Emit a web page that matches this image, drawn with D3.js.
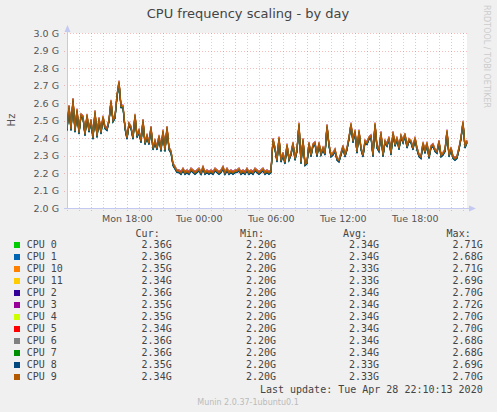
<!DOCTYPE html>
<meta charset="utf-8">
<style>
body { margin: 0; background: #f0f0f0; }
svg { display: block; font-family: "DejaVu Sans", sans-serif; }
.axis-label { font-size: 9.5px; fill: #555; }
.legend { font-family: "DejaVu Sans Mono", monospace; font-size: 10px; fill: #444; white-space: pre; }
</style>
<svg width="497" height="412"></svg>
<script src="https://cdn.jsdelivr.net/npm/d3@7"></script>
<script>

// legend rows, in munin's order (cpu9 is drawn last, on top)
var cpuNames = ["CPU 0", "CPU 1", "CPU 10", "CPU 11", "CPU 2", "CPU 3", "CPU 4", "CPU 5", "CPU 6", "CPU 7", "CPU 8", "CPU 9"];
var cpuColors = ["#00cc00", "#0066b3", "#ff8000", "#ffcc00", "#330099", "#990099", "#ccff00", "#ff0000", "#808080", "#008f00", "#00487d", "#b35a00"];
var curVals = ["2.36G", "2.36G", "2.35G", "2.34G", "2.36G", "2.35G", "2.35G", "2.34G", "2.36G", "2.36G", "2.35G", "2.34G"];
var minVals = ["2.20G", "2.20G", "2.20G", "2.20G", "2.20G", "2.20G", "2.20G", "2.20G", "2.20G", "2.20G", "2.20G", "2.20G"];
var avgVals = ["2.34G", "2.34G", "2.33G", "2.33G", "2.34G", "2.34G", "2.34G", "2.34G", "2.34G", "2.34G", "2.33G", "2.33G"];
var maxVals = ["2.71G", "2.68G", "2.71G", "2.69G", "2.70G", "2.72G", "2.70G", "2.70G", "2.68G", "2.68G", "2.69G", "2.70G"];

// sampled every 10 minutes from Mon 27 Apr 12:58:30 (GHz), all cores run nearly the same
var startTime = new Date(Date.UTC(2020, 3, 27, 12, 58, 30));
var stepMinutes = 10;
var cpuFreq = [
  2.45, 2.58, 2.45, 2.62, 2.44, 2.56, 2.43, 2.53, 2.52, 2.42,
  2.53, 2.44, 2.50, 2.40, 2.55, 2.41, 2.51, 2.43, 2.52, 2.46,
  2.45, 2.50, 2.61, 2.50, 2.52, 2.64, 2.72, 2.58, 2.58, 2.46,
  2.40, 2.48, 2.46, 2.40, 2.53, 2.41, 2.44, 2.38, 2.50, 2.37,
  2.41, 2.37, 2.46, 2.34, 2.38, 2.34, 2.41, 2.33, 2.44, 2.33,
  2.46, 2.34, 2.32, 2.25, 2.23, 2.21,
  2.21, 2.20, 2.22, 2.20, 2.21, 2.20, 2.22, 2.21, 2.20, 2.21,
  2.22, 2.20, 2.23, 2.20, 2.21, 2.20, 2.21, 2.20, 2.22, 2.21,
  2.20, 2.21, 2.23, 2.20, 2.22, 2.20, 2.21, 2.20, 2.21, 2.21,
  2.22, 2.20, 2.21, 2.20, 2.22, 2.20, 2.21, 2.20, 2.22, 2.21,
  2.20, 2.21, 2.22, 2.20, 2.21, 2.20,
  2.21, 2.39, 2.34, 2.27, 2.40, 2.27, 2.31, 2.26, 2.36, 2.28,
  2.31, 2.37, 2.28, 2.33, 2.48, 2.26, 2.39, 2.25, 2.26, 2.37,
  2.30, 2.36, 2.37, 2.30, 2.37, 2.31, 2.34, 2.31, 2.47, 2.36,
  2.30, 2.31, 2.33, 2.28, 2.27, 2.31, 2.35, 2.30, 2.34, 2.40,
  2.48, 2.38, 2.44, 2.32, 2.44, 2.34, 2.30, 2.38, 2.37, 2.40,
  2.41, 2.30, 2.48, 2.35, 2.33, 2.43, 2.30, 2.38, 2.36, 2.40,
  2.31, 2.43, 2.36, 2.40, 2.34, 2.41, 2.38, 2.42, 2.35, 2.39,
  2.38, 2.34, 2.40, 2.34, 2.30, 2.29, 2.37, 2.32, 2.37, 2.29,
  2.35, 2.36, 2.33, 2.32, 2.38, 2.30, 2.31, 2.33, 2.44, 2.30,
  2.34, 2.29, 2.28, 2.29, 2.34, 2.40, 2.49, 2.35, 2.38
];

// small per-core vertical nudge so the overlapping cores peek out like in munin
var lineShift = [0.5, 1, 0, -1, 0, -1.5, -1, -0.5, 0, 1, 1.5, 0];

var svg = d3.select("svg"),
    width = +svg.attr("width"),
    height = +svg.attr("height");

var plotLeft = 67, plotRight = 467, plotTop = 33, plotBottom = 208;
var gridColor = "rgba(150,150,150,0.4)",
    majorColor = "rgba(240,80,80,0.38)",
    axisColor = "#c4c9f2";

var endTime = d3.utcMinute.offset(startTime, stepMinutes * (cpuFreq.length - 1));

var x = d3.scaleUtc()
          .domain([startTime, endTime])
          .range([plotLeft, plotRight]);

var y = d3.scaleLinear()
          .domain([2.0, 3.0])
          .range([plotBottom, plotTop]);

svg.append("rect")
    .attr("width", width)
    .attr("height", height)
    .attr("fill", "#f0f0f0");

svg.append("rect")
    .attr("x", plotLeft)
    .attr("y", plotTop)
    .attr("width", plotRight - plotLeft)
    .attr("height", plotBottom - plotTop)
    .attr("fill", "#fff");

function px(v) { return Math.round(v) + 0.5; }

// vertical grid: every hour gray, every 3 hours red
var hours = d3.utcHour.range(startTime, endTime);
svg.append("g")
  .selectAll("line")
  .data(hours)
  .enter().append("line")
    .attr("x1", function(d) { return px(x(d)); })
    .attr("x2", function(d) { return px(x(d)); })
    .attr("y1", plotTop)
    .attr("y2", plotBottom + 3)
    .attr("stroke", function(d) { return d.getUTCHours() % 3 == 0 ? majorColor : gridColor; })
    .attr("stroke-dasharray", "1,2");

// horizontal grid
svg.append("g")
  .selectAll("line")
  .data(y.ticks(10))
  .enter().append("line")
    .attr("x1", plotLeft - 3)
    .attr("x2", plotRight + 2)
    .attr("y1", function(d) { return px(y(d)); })
    .attr("y2", function(d) { return px(y(d)); })
    .attr("stroke", majorColor)
    .attr("stroke-dasharray", "1,2");

// y labels
svg.append("g")
  .selectAll("text")
  .data(y.ticks(10))
  .enter().append("text")
    .attr("class", "axis-label")
    .attr("x", 59)
    .attr("y", function(d) { return y(d) + 3.5; })
    .attr("text-anchor", "end")
    .text(function(d) { return d.toFixed(1) + " G"; });

// x labels every 6 hours
var fmt = d3.utcFormat("%a %H:%M");
svg.append("g")
  .selectAll("text")
  .data(d3.utcHour.every(6).range(startTime, endTime))
  .enter().append("text")
    .attr("class", "axis-label")
    .attr("x", function(d) { return x(d); })
    .attr("y", 222)
    .attr("text-anchor", "middle")
    .text(function(d) { return fmt(d); });

// axes with arrows
svg.append("line")
    .attr("x1", plotLeft + 0.5).attr("x2", plotLeft + 0.5)
    .attr("y1", plotBottom + 1).attr("y2", 29)
    .attr("stroke", axisColor);
svg.append("path")
    .attr("d", "M64.5,32L70.5,32L67.5,25Z")
    .attr("fill", axisColor);
svg.append("line")
    .attr("x1", plotLeft - 3).attr("x2", 471)
    .attr("y1", plotBottom + 0.5).attr("y2", plotBottom + 0.5)
    .attr("stroke", axisColor);
svg.append("path")
    .attr("d", "M469,205.5L469,211.5L476,208.5Z")
    .attr("fill", axisColor);

// series
svg.append("clipPath")
    .attr("id", "plot")
  .append("rect")
    .attr("x", plotLeft)
    .attr("y", plotTop - 2)
    .attr("width", plotRight - plotLeft + 1)
    .attr("height", plotBottom - plotTop + 2);

var line = d3.line()
    .x(function(d, i) { return x(d3.utcMinute.offset(startTime, i * stepMinutes)); })
    .y(function(d) { return y(d); });

svg.append("g")
    .attr("clip-path", "url(#plot)")
  .selectAll("path")
  .data(cpuNames)
  .enter().append("path")
    .attr("transform", function(d, i) { return "translate(0," + lineShift[i] + ")"; })
    .attr("d", line(cpuFreq))
    .attr("fill", "none")
    .attr("stroke", function(d, i) { return cpuColors[i]; })
    .attr("stroke-width", 1.2);

// title and side texts
svg.append("text")
    .attr("x", 248)
    .attr("y", 18)
    .attr("text-anchor", "middle")
    .attr("font-size", "13px")
    .attr("fill", "#444")
    .text("CPU frequency scaling - by day");

svg.append("text")
    .attr("transform", "translate(11,120) rotate(-90)")
    .attr("text-anchor", "middle")
    .attr("dy", "0.35em")
    .attr("font-size", "10px")
    .attr("fill", "#555")
    .text("Hz");

svg.append("text")
    .attr("transform", "translate(487,5) rotate(90)")
    .attr("dy", "0.35em")
    .attr("font-size", "8px")
    .attr("fill", "#ccc")
    .text("RRDTOOL / TOBI OETIKER");

// legend
var colEnds = [171.7, 276, 379, 482.7];
var headers = ["Cur:", "Min:", "Avg:", "Max:"];
var cols = [curVals, minVals, avgVals, maxVals];

var lg = svg.append("g").attr("class", "legend");

lg.selectAll("text.head")
  .data(headers)
  .enter().append("text")
    .attr("class", "head")
    .attr("x", function(d, i) { return colEnds[i] - 12; })
    .attr("y", 236.5)
    .attr("text-anchor", "end")
    .text(function(d) { return d; });

var rows = lg.selectAll("g.row")
  .data(cpuNames)
  .enter().append("g")
    .attr("class", "row")
    .attr("transform", function(d, i) { return "translate(0," + (248.3 + i * 12) + ")"; });

rows.append("rect")
    .attr("x", 14)
    .attr("y", -6.3)
    .attr("width", 6)
    .attr("height", 6)
    .attr("fill", function(d, i) { return cpuColors[i]; });

rows.append("text")
    .attr("x", 26.7)
    .text(function(d) { return d; });

cols.forEach(function(vals, c) {
  rows.append("text")
      .attr("x", colEnds[c])
      .attr("text-anchor", "end")
      .text(function(d, i) { return vals[i]; });
});

lg.append("text")
    .attr("x", 482.7)
    .attr("y", 392.7)
    .attr("text-anchor", "end")
    .text("Last update: Tue Apr 28 22:10:13 2020");

svg.append("text")
    .attr("x", 248)
    .attr("y", 405)
    .attr("text-anchor", "middle")
    .attr("font-size", "8px")
    .attr("fill", "#bbb")
    .text("Munin 2.0.37-1ubuntu0.1");

</script>
